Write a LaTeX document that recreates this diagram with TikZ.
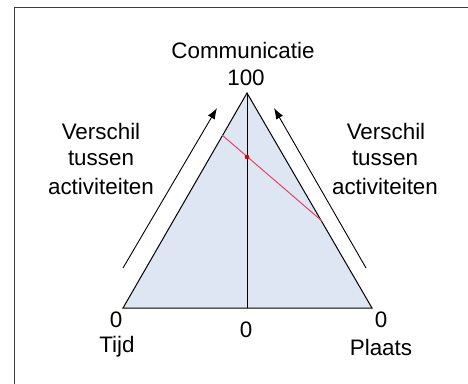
\documentclass[tikz,border=0pt]{standalone}
\usepackage{fontspec}
\setmainfont{Liberation Sans}
\usetikzlibrary{arrows.meta}
\definecolor{trifill}{RGB}{221,230,242}
\definecolor{framecol}{RGB}{60,60,60}
\definecolor{redline}{RGB}{226,70,100}
\tikzset{
  lbl/.style={inner sep=0pt, font=\fontsize{22.4}{26}\selectfont, align=center},
  edge/.style={draw=black, line width=1pt},
  arr/.style={draw=black, line width=0.9pt, -{Latex[length=11pt,width=8pt]}},
}
\begin{document}
\begin{tikzpicture}[x=1pt,y=-1pt]
\useasboundingbox (0,0) rectangle (468,383);
\begin{scope}
\clip (0,0) rectangle (468,383);
\draw[framecol, line width=1.3pt] (14.5,400) -- (14.5,7.5) -- (480,7.5);
\end{scope}
\coordinate (apex) at (247,93);
\coordinate (bl) at (123,308);
\coordinate (br) at (372,308);
\coordinate (bm) at (247,308);
\fill[trifill] (apex) -- (bl) -- (br) -- cycle;
\draw[edge, line join=miter] (apex) -- (bl) -- (br) -- cycle;
\draw[edge] (apex) -- (bm);
\coordinate (r1) at (222,135);
\coordinate (r2) at (322,221);
\draw[redline, line width=1pt] (r1) -- (r2);
\fill[red!85!black] (247,157) circle (2.3pt);
\coordinate (la1) at (123,268);
\coordinate (la2) at (217,108);
\coordinate (ra1) at (366,268);
\coordinate (ra2) at (274,108);
\draw[arr] (la1) -- (la2);
\draw[arr] (ra1) -- (ra2);
\node[lbl] (comm) at (243,50) {Communicatie};
\node[lbl] (top) at (246,78) {100};
\node[lbl] (lv) at (101,131) {Verschil};
\node[lbl] (lt) at (101,158) {tussen};
\node[lbl] (la) at (101,186) {activiteiten};
\node[lbl] (rv) at (386,131) {Verschil};
\node[lbl] (rt) at (385,158) {tussen};
\node[lbl] (ra) at (385,186) {activiteiten};
\node[lbl] (z1) at (116,320) {0};
\node[lbl] (tijd) at (117,347) {Tijd};
\node[lbl] (z2) at (246,330) {0};
\node[lbl] (z3) at (381,320) {0};
\node[lbl] (plaats) at (381,347) {Plaats};
\end{tikzpicture}
\end{document}
